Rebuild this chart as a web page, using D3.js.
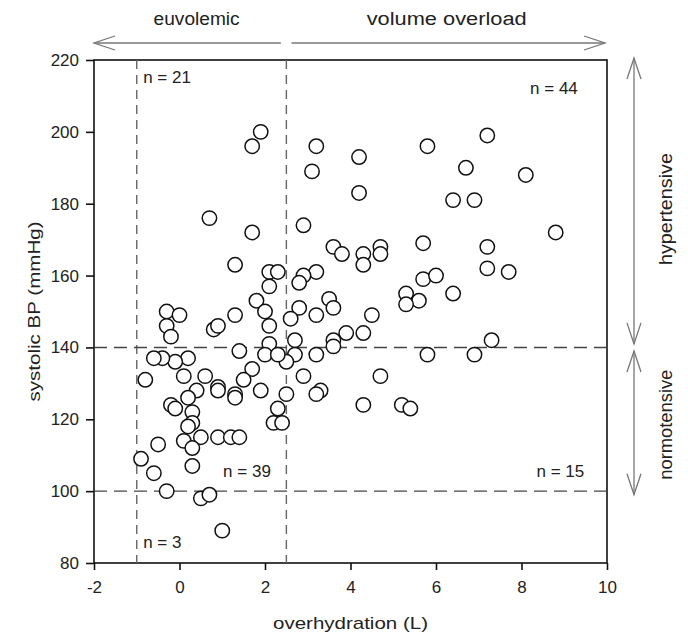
<!DOCTYPE html>
<html>
<head>
<meta charset="utf-8">
<script src="https://cdn.jsdelivr.net/npm/d3@7"></script>
<style>
  body { margin: 0; background: #fff; }
  svg { display: block; }
  text { font-family: "Liberation Sans", Arial, sans-serif; fill: #222; }
</style>
</head>
<body>
<div id="chart"></div>
<script>
// overhydration (L)
const overhydration = [
  1.9, 1.7, 0.7, 1.7, 1.3, 2.1, 2.3, 2.1, 1.8, 2.0, 2.1, 2.1, 1.3, 0.8, 0.9, -0.3, 0.0, -0.3, -0.2,
  3.2, 3.1, 4.2, 4.2, 2.9, 3.6, 3.8, 4.3, 4.3, 4.7, 4.7, 5.8, 5.7, 6.7, 7.2, 6.4, 6.9, 8.1, 8.8,
  7.2, 7.2, 7.7, 3.2, 2.9, 2.8, 5.7, 6.0, 3.5, 5.3, 5.6, 6.4, 5.3, 3.6, 2.8, 2.6, 3.2, 4.5, 3.9,
  4.3, 3.6, 3.6, 2.7, 7.3,
  2.7, 3.2, 2.5, 5.8, 6.9, 2.9, 4.7, 3.3, 3.2, 2.5, 4.3, 5.2, 5.4,
  2.0, 2.3, 2.3, 2.2, 2.4, 1.9, 1.7, 1.5, 1.4, 1.3, 1.3, 0.9, 0.9, 0.6, 0.4, 0.2, 0.1, 0.2, -0.1,
  -0.4, -0.6, -0.8, -0.2, -0.1, 0.3, 0.3, 0.2, 0.1, 0.5, 0.3, 0.9, 1.2, 1.4, 0.3, -0.5, -0.9, -0.6, -0.3,
  0.5, 0.7, 1.0
];
// systolic BP (mmHg)
const systolicBP = [
  200, 196, 176, 172, 163, 161, 161, 157, 153, 150, 146, 141, 149, 145, 146, 150, 149, 146, 143,
  196, 189, 193, 183, 174, 168, 166, 166, 163, 168, 166, 196, 169, 190, 199, 181, 181, 188, 172,
  168, 162, 161, 161, 160, 158, 159, 160, 153.5, 155, 153, 155, 152, 151, 151, 148, 149, 149, 144,
  144, 142, 140.3, 142, 142,
  138, 138, 136, 138, 138, 132, 132, 128, 127, 127, 124, 124, 123,
  138, 138, 123, 119, 119, 128, 134, 131, 139, 127, 126, 129, 128, 132, 128, 126, 132, 137, 136,
  137, 137, 131, 124, 123, 122, 119, 118, 114, 115, 112, 115, 115, 115, 107, 113, 109, 105, 100,
  98, 99, 89
];
const xTicks = [-2, 0, 2, 4, 6, 8, 10];
const yTicks = [80, 100, 120, 140, 160, 180, 200, 220];
const xCutoffs = [-1, 2.5];
const yCutoffs = [100, 140];
const quadrantLabels = [
  { text: "n = 21", x: -0.85, y: 213.5 },
  { text: "n = 44", x: 8.2, y: 210.5 },
  { text: "n = 39", x: 1.02, y: 104 },
  { text: "n = 15", x: 8.35, y: 104 },
  { text: "n = 3", x: -0.85, y: 84.3 }
];

const W = 688, H = 644;
const m = { top: 60, right: 81, bottom: 81, left: 94 };
const iw = W - m.left - m.right, ih = H - m.top - m.bottom;

const svg = d3.select("#chart").append("svg").attr("width", W).attr("height", H);
const g = svg.append("g").attr("transform", `translate(${m.left},${m.top})`);

const x = d3.scaleLinear().domain([-2, 10]).range([0, iw]);
const y = d3.scaleLinear().domain([80, 220]).range([ih, 0]);

// axes
const xAxis = g.append("g").attr("transform", `translate(0,${ih})`)
  .call(d3.axisBottom(x).tickValues(xTicks).tickFormat(d => String(d))
    .tickSize(7).tickSizeOuter(0).tickPadding(11));
const yAxis = g.append("g")
  .call(d3.axisLeft(y).tickValues(yTicks).tickFormat(d => String(d))
    .tickSize(8).tickSizeOuter(0).tickPadding(7));
[xAxis, yAxis].forEach(a => {
  a.select(".domain").remove();
  a.selectAll("line").attr("stroke", "#111").attr("stroke-width", 1.6);
  a.selectAll("text").style("font-size", "17px").attr("fill", "#222")
    .style("font-family", "'Liberation Sans', Arial, sans-serif");
});

// frame
g.append("rect").attr("x", 0).attr("y", 0).attr("width", iw).attr("height", ih)
  .attr("fill", "none").attr("stroke", "#111").attr("stroke-width", 1.6);

// cutoff dashed lines
g.selectAll(".vcut").data(xCutoffs).join("line")
  .attr("x1", d => x(d)).attr("x2", d => x(d)).attr("y1", 0).attr("y2", ih)
  .attr("stroke", "#666").attr("stroke-width", 1.4).attr("stroke-dasharray", "9,6");
g.selectAll(".hcut").data(yCutoffs).join("line")
  .attr("x1", 0).attr("x2", iw).attr("y1", d => y(d)).attr("y2", d => y(d))
  .attr("stroke", "#444").attr("stroke-width", 1.4).attr("stroke-dasharray", "13,7");

// points
const pts = overhydration.map((v, i) => ({ x: v, y: systolicBP[i] }));
g.selectAll("circle.pt").data(pts).join("circle").attr("class", "pt")
  .attr("cx", d => x(d.x)).attr("cy", d => y(d.y)).attr("r", 7.2)
  .attr("fill", "#fff").attr("stroke", "#111").attr("stroke-width", 1.5);

// quadrant labels
g.selectAll("text.q").data(quadrantLabels).join("text").attr("class", "q")
  .attr("x", d => x(d.x)).attr("y", d => y(d.y))
  .style("font-size", "17px").text(d => d.text);

// axis titles
function label(tx, ty, rot, txt, len, size) {
  svg.append("text")
    .attr("transform", `translate(${tx},${ty})` + (rot ? ` rotate(${rot})` : ""))
    .attr("text-anchor", "middle").style("font-size", size + "px")
    .attr("textLength", len).attr("lengthAdjust", "spacingAndGlyphs")
    .text(txt);
}
label(m.left + iw / 2, 629, 0, "overhydration (L)", 155, 17);
label(40, m.top + ih / 2, -90, "systolic BP (mmHg)", 180, 17);

// arrows
const arrowColor = "#777";
function arrowLine(x1, y1, x2, y2, headStart, headEnd) {
  svg.append("line").attr("x1", x1).attr("y1", y1).attr("x2", x2).attr("y2", y2)
    .attr("stroke", arrowColor).attr("stroke-width", 1.3);
  const head = (tx, ty, fx, fy) => {
    const ang = Math.atan2(ty - fy, tx - fx);
    const L = 21, wdt = 7;
    const bx = tx - L * Math.cos(ang), by = ty - L * Math.sin(ang);
    const px = -Math.sin(ang) * wdt, py = Math.cos(ang) * wdt;
    svg.append("path")
      .attr("d", `M${bx + px},${by + py}L${tx},${ty}L${bx - px},${by - py}`)
      .attr("fill", "none").attr("stroke", arrowColor).attr("stroke-width", 1.3);
  };
  if (headStart) head(x1, y1, x2, y2);
  if (headEnd) head(x2, y2, x1, y1);
}
// horizontal (top)
arrowLine(m.left, 43, m.left + x(2.37), 43, true, false);
arrowLine(m.left + x(2.62), 43, m.left + iw - 2, 43, false, true);
label(m.left + x(0.4), 25, 0, "euvolemic", 86, 18);
label(m.left + x(6.25), 25, 0, "volume overload", 160, 18);
// vertical (right)
const ax = 634;
arrowLine(ax, m.top - 2, ax, m.top + y(141), true, true);
arrowLine(ax, m.top + y(139), ax, m.top + y(99), true, true);
label(672, m.top + y(178.5), -90, "hypertensive", 112, 18);
label(672, m.top + y(118.5), -90, "normotensive", 110, 18);
</script>
</body>
</html>
